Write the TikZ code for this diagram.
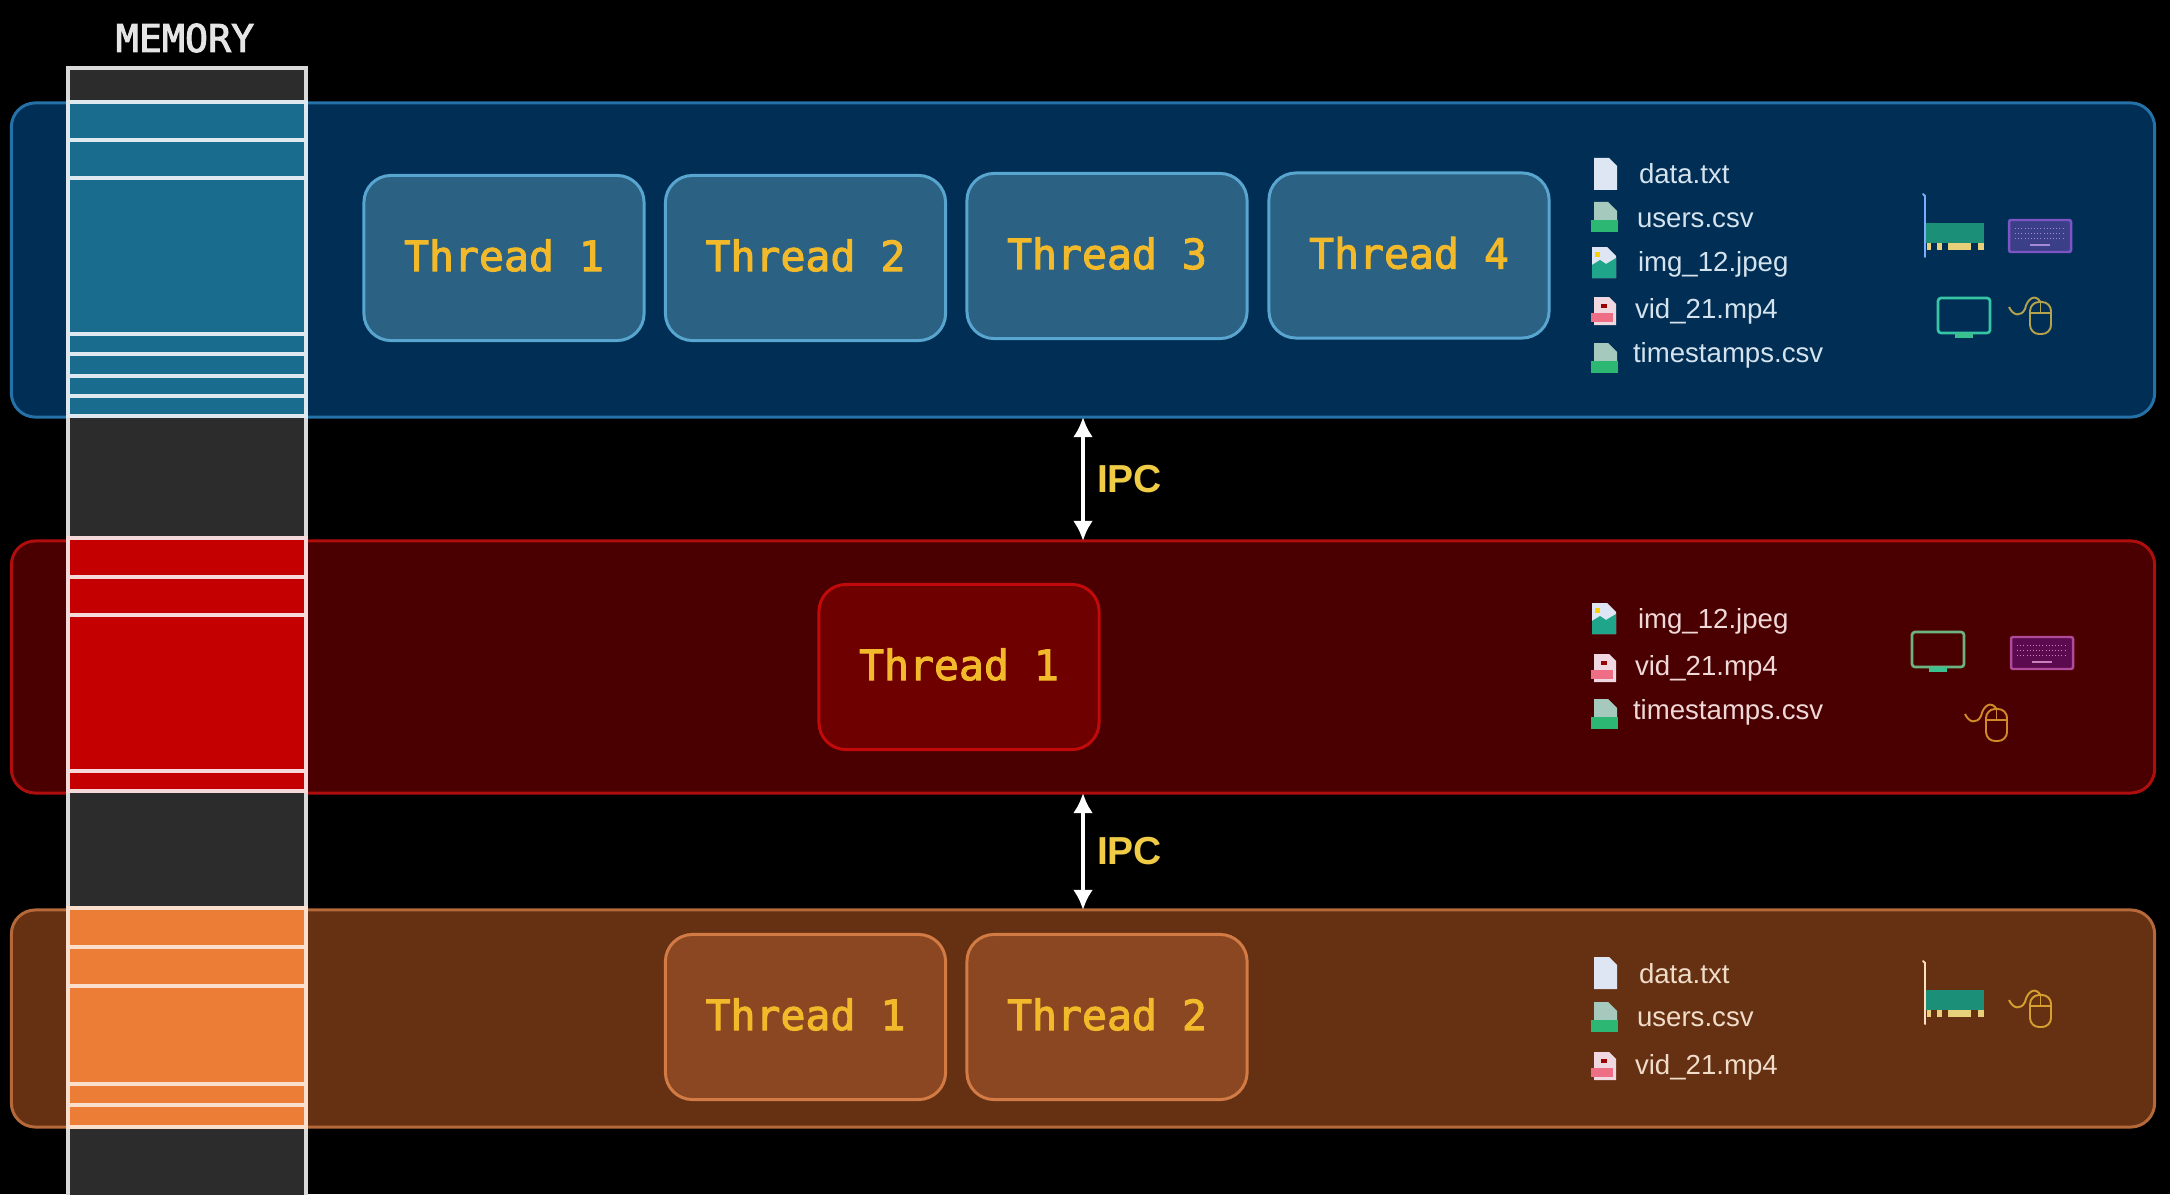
\documentclass[tikz,border=0pt]{standalone}
\usepackage{fontspec}
\setmainfont{Liberation Sans}
\newfontfamily\labelfont{DejaVu Sans Mono}[FakeBold=2.5]
\usetikzlibrary{arrows.meta}
\definecolor{memgrey}{HTML}{2C2C2C}
\definecolor{memblue}{HTML}{1A6C8F}
\definecolor{memred}{HTML}{C40000}
\definecolor{memorange}{HTML}{EB7D37}
\definecolor{threadtext}{HTML}{F2B92A}
\definecolor{ipctext}{HTML}{F0CB45}
\definecolor{bluefill}{HTML}{002E54}
\definecolor{blueline}{HTML}{2472A8}
\definecolor{redfill}{HTML}{4A0000}
\definecolor{redline}{HTML}{B00D0D}
\definecolor{orangefill}{HTML}{653112}
\definecolor{orangeline}{HTML}{B5693A}
\definecolor{threadblue}{HTML}{2B6183}
\definecolor{threadblueline}{HTML}{58A5D0}
\definecolor{threadred}{HTML}{6E0000}
\definecolor{threadredline}{HTML}{C20A0A}
\definecolor{threadorange}{HTML}{8A4721}
\definecolor{threadorangeline}{HTML}{D27B45}
\definecolor{pagecolor}{HTML}{DDE6F2}
\definecolor{csvpage}{HTML}{A6C9BE}
\definecolor{csvband}{HTML}{2CB873}
\definecolor{imggreen}{HTML}{1FA58A}
\definecolor{vidpage}{HTML}{EFD8E0}
\definecolor{vidband}{HTML}{EE6F85}
\definecolor{cardgreen}{HTML}{1C8F78}
\definecolor{cardpads}{HTML}{E8CF7A}
\definecolor{standgreen}{HTML}{3CC090}
\definecolor{textblue}{HTML}{D4E3EE}
\definecolor{textred}{HTML}{F0D8D8}
\definecolor{textorange}{HTML}{F0DCC8}
\definecolor{keypurple}{HTML}{7E55C4}
\definecolor{keypurplefill}{HTML}{3A3F88}
\definecolor{keypink}{HTML}{B04A9A}
\definecolor{keypinkfill}{HTML}{5C0A50}
\definecolor{screenteal}{HTML}{36C6A6}
\definecolor{screengreen}{HTML}{6DB380}
\definecolor{mouseolive}{HTML}{B5A24C}
\definecolor{mouseamber}{HTML}{D18A2A}
\definecolor{mousegold}{HTML}{D6A030}
\tikzset{
	panel/.style={draw, line width=0.85pt, rounded corners=0.24cm, minimum width=21.42cm},
	panelblue/.style={panel, draw=blueline, fill=bluefill},
	panelred/.style={panel, draw=redline, fill=redfill},
	panelorange/.style={panel, draw=orangeline, fill=orangefill},
	threadbox/.style={draw, line width=0.85pt, rounded corners=0.27cm, minimum width=2.80cm, minimum height=1.65cm,
		text height=0.3cm, text depth=0.04cm, text=threadtext, font=\labelfont\fontsize{11.8pt}{14pt}\selectfont},
	threadA/.style={threadbox, draw=threadblueline, fill=threadblue},
	threadB/.style={threadbox, draw=threadredline, fill=threadred},
	threadC/.style={threadbox, draw=threadorangeline, fill=threadorange},
	filetext/.style={anchor=base west, font=\fontsize{7.85pt}{9pt}\selectfont},
	ipclabel/.style={anchor=west, text=ipctext, font=\bfseries\fontsize{11.1pt}{13pt}\selectfont},
	ipcarrow/.style={white, line width=1.4pt, {Latex[length=5.7pt,width=5.7pt]}-{Latex[length=5.7pt,width=5.7pt]}},
	memcell/.style={line width=1.05pt},
	pics/txtfile/.style={code={
		\fill [pagecolor] (0,0) -- (15,0) -- (23,-8) -- (23,-32) -- (0,-32) -- cycle;
	}},
	pics/csvfile/.style={code={
		\fill [csvpage] (0,0) -- (14,0) -- (23,-9) -- (23,-29) -- (0,-29) -- cycle;
		\fill [csvband] (-3,-18) rectangle (24,-30);
	}},
	pics/imgfile/.style={code={
		\fill [pagecolor] (0,0) -- (15,0) -- (24,-9) -- (24,-31) -- (0,-31) -- cycle;
		\fill [yellow!70!orange] (3,-5) rectangle (8,-10);
		\fill [imggreen] (0,-18) -- (8,-13) -- (14,-17) -- (24,-11) -- (24,-31) -- (0,-31) -- cycle;
	}},
	pics/vidfile/.style={code={
		\fill [vidpage] (0,0) -- (15,0) -- (22,-7) -- (22,-28) -- (0,-28) -- cycle;
		\fill [vidband] (-3,-16) rectangle (19,-25);
		\fill [red!60!black] (7,-7) rectangle (13,-11);
	}},
	pics/cardicon/.style={code={
		\draw [#1, line width=0.55pt, line cap=round] (0,0) -- (2,-2) -- (2,-63);
		\fill [cardgreen] (3,-29) rectangle (61,-49);
		\foreach \xa/\xb in {4/8,14/19,25/48,55/61} \fill [cardpads] (\xa,-49) rectangle (\xb,-56);
	}},
	pics/keyicon/.style args={#1/#2}{code={
		\draw [#1, fill=#2, line width=0.7pt, rounded corners=0.02cm] (0,0) rectangle (62,-32);
		\foreach \yk in {-8,-13,-18} \draw [#1!70!white, line width=0.25pt, dash pattern=on 0.3pt off 0.6pt] (6,\yk) -- (56,\yk);
		\draw [#1!70!white, line width=0.4pt] (21,-25) -- (41,-25);
	}},
	pics/screenicon/.style={code={
		\draw [#1, line width=0.75pt, rounded corners=0.03cm] (0,0) rectangle (52,-35);
		\fill [standgreen] (17,-35) rectangle (35,-40);
	}},
	pics/mouseicon/.style={code={
		\draw [#1, line width=0.55pt, rounded corners=0.09cm] (21,-7) rectangle (42,-39);
		\draw [#1, line width=0.55pt] (21,-18) -- (42,-18) (31.5,-7) -- (31.5,-18);
		\draw [#1, line width=0.55pt] (0,-12) .. controls (4,-21) and (12,-22) .. (16,-14) .. controls (18,-4) and (26,2) .. (31.5,-7);
	}}
}
\begin{document}
\begin{tikzpicture}[x=0.01cm, y=0.01cm]
	\tikzstyle{every node}+=[inner sep=0pt, outer sep=0pt]
	\clip (0,0) rectangle (2170,-1194);
	\fill [black] (0,0) rectangle (2170,-1194);
	% process panels
	\node (procA) [panelblue, minimum height=3.14cm] at (1083,-260) {};
	\node (procB) [panelred, minimum height=2.52cm] at (1083,-667) {};
	\node (procC) [panelorange, minimum height=2.17cm] at (1083,-1018.5) {};
	% memory column
	\node (memlabel) [text=white!90!black, font=\labelfont\fontsize{10.9pt}{13pt}\selectfont] at (185,-38) {MEMORY};
	\draw [memcell, draw=white!85!black, fill=memgrey] (68,-68) rectangle (306,-1220);
	\foreach \ya/\yb in {102/140,140/178,178/334,334/354,354/376,376/396,396/416}
		\draw [memcell, draw=memblue!15!white, fill=memblue] (68,-\ya) rectangle (306,-\yb);
	\foreach \ya/\yb in {538/577,577/615,615/771,771/791}
		\draw [memcell, draw=memred!15!white, fill=memred] (68,-\ya) rectangle (306,-\yb);
	\foreach \ya/\yb in {908/947,947/986,986/1084,1084/1105,1105/1127}
		\draw [memcell, draw=memorange!25!white, fill=memorange] (68,-\ya) rectangle (306,-\yb);
	% threads
	\node (threadA1) [threadA] at (504,-258) {Thread 1};
	\node (threadA2) [threadA] at (805.5,-258) {Thread 2};
	\node (threadA3) [threadA] at (1107,-256) {Thread 3};
	\node (threadA4) [threadA] at (1409,-255.5) {Thread 4};
	\node (threadB1) [threadB] at (959,-667) {Thread 1};
	\node (threadC1) [threadC] at (805.5,-1017) {Thread 1};
	\node (threadC2) [threadC] at (1107,-1017) {Thread 2};
	% ipc
	\draw [ipcarrow] (procA.south) -- (procB.north);
	\draw [ipcarrow] (procB.south) -- (procC.north);
	\node (ipcA) [ipclabel] at (1097,-479) {IPC};
	\node (ipcB) [ipclabel] at (1097,-851) {IPC};
	% files of process A
	\pic at (1594,-158) {txtfile};
	\node (dataA) [filetext, text=textblue] at (1639,-183) {data.txt};
	\pic at (1594,-202) {csvfile};
	\node (usersA) [filetext, text=textblue] at (1637,-227) {users.csv};
	\pic at (1592,-247) {imgfile};
	\node (imgA) [filetext, text=textblue] at (1638,-271.5) {img\_12.jpeg};
	\pic at (1594,-297) {vidfile};
	\node (vidA) [filetext, text=textblue] at (1635,-318) {vid\_21.mp4};
	\pic at (1594,-343) {csvfile};
	\node (stampsA) [filetext, text=textblue] at (1633,-362) {timestamps.csv};
	% files of process B
	\pic at (1592,-603) {imgfile};
	\node (imgB) [filetext, text=textred] at (1638,-628) {img\_12.jpeg};
	\pic at (1594,-654) {vidfile};
	\node (vidB) [filetext, text=textred] at (1635,-675) {vid\_21.mp4};
	\pic at (1594,-699) {csvfile};
	\node (stampsB) [filetext, text=textred] at (1633,-719) {timestamps.csv};
	% files of process C
	\pic at (1594,-957) {txtfile};
	\node (dataC) [filetext, text=textorange] at (1639,-983) {data.txt};
	\pic at (1594,-1002) {csvfile};
	\node (usersC) [filetext, text=textorange] at (1637,-1026) {users.csv};
	\pic at (1594,-1052) {vidfile};
	\node (vidC) [filetext, text=textorange] at (1635,-1074) {vid\_21.mp4};
	% devices
	\pic at (1923,-194) {cardicon={white!60!blue!80!cyan}};
	\pic at (2009,-220) {keyicon={keypurple/keypurplefill}};
	\pic at (1938,-298) {screenicon=screenteal};
	\pic at (2009,-295) {mouseicon=mouseolive};
	\pic at (1912,-632) {screenicon=screengreen};
	\pic at (2011,-637) {keyicon={keypink/keypinkfill}};
	\pic at (1965,-702) {mouseicon=mouseamber};
	\pic at (1923,-961) {cardicon={white!75!orange}};
	\pic at (2009,-988) {mouseicon=mousegold};
\end{tikzpicture}
\end{document}
